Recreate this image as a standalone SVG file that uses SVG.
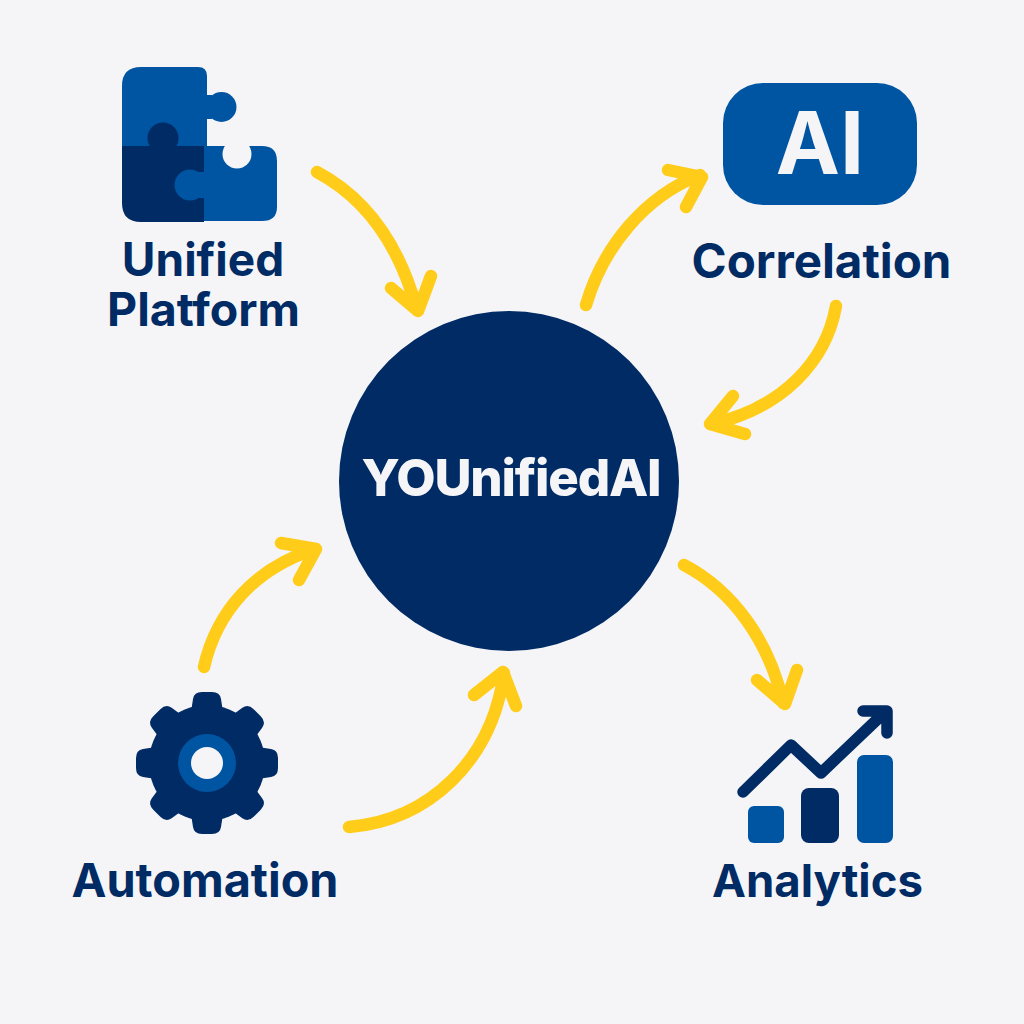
<svg xmlns="http://www.w3.org/2000/svg" width="1024" height="1024" viewBox="0 0 1024 1024">
<style>
.navy{fill:#002b64}.blue{fill:#0055a2}.bg{fill:#f5f5f8}
.lab{font-family:Inter,"Liberation Sans",sans-serif;font-weight:700;fill:#002b64;font-size:46px;text-anchor:middle}
.arr{fill:none;stroke:#ffcc1a;stroke-width:12.5;stroke-linecap:round;stroke-linejoin:round}
.line{fill:none;stroke:#002b64;stroke-width:11.5;stroke-linecap:round;stroke-linejoin:round}
</style>
<defs>
<path id="tooth" d="M191 712L193 699Q194 692 202 692H212Q220 692 221 699L223 712Z"/>
</defs>
<rect width="1024" height="1024" class="bg"/>
<g id="connectors" class="arr">
<path d="M317 172C362 196 398 240 417 310M391 288L418 311L431 276"/>
<path d="M586 305C603 247 645 196 700 175M668 170L702 177L686 207"/>
<path d="M836 306C826 362 782 408 712 424M733 396L710 424L745 434"/>
<path d="M204 667C217 610 256 568 315 549M281 543L316 549L299 580"/>
<path d="M349 827C430 820 492 760 504 673M474 695L503 672L516 706"/>
<path d="M684 565C732 590 769 640 783 703M757 680L785 704L797 670"/>
</g>
<g id="center">
<circle cx="509" cy="481" r="170" class="navy"/>
<text x="511" y="496" style="font-family:Inter,'Liberation Sans',sans-serif;font-weight:800;font-size:51px;text-anchor:middle;fill:#f5f5f8;letter-spacing:-1.2px">YOUnifiedAI</text>
</g>
<g id="unified-platform">
<path class="blue" d="M141 67H198Q207 67 207 76V147H122V86Q122 67 141 67Z"/>
<circle cx="221.500" cy="107" r="15" class="blue"/>
<path class="blue" d="M205 95H212V119H205Z"/>
<path class="blue" d="M204 146H262Q277 146 277 161V207Q277 221 262 221H204Z"/>
<path class="navy" d="M122 146H204V222H141Q122 222 122 203Z"/>
<circle cx="163" cy="138" r="15.500" class="navy"/>
<path class="navy" d="M150 140H176V147H150Z"/>
<circle cx="190" cy="185" r="15.500" class="blue"/>
<path class="blue" d="M198 172H205V198H198Z"/>
<circle cx="237" cy="154" r="14.500" class="bg"/>
<rect x="225" y="140" width="26" height="6" class="bg"/>
<text x="203" y="276" class="lab">Unified</text>
<text x="203.500" y="326" class="lab" style="font-size:46.500px">Platform</text>
</g>
<g id="correlation">
<rect x="723" y="83" width="194" height="122" rx="40" class="blue"/>
<text x="820" y="174" style="font-family:Inter,'Liberation Sans',sans-serif;font-weight:700;font-size:86px;text-anchor:middle;fill:#f5f5f8">AI</text>
<text x="821.500" y="278" class="lab" style="font-size:47.500px">Correlation</text>
</g>
<g id="automation">
<g class="navy">
<circle cx="207" cy="763" r="58"/>
<use href="#tooth"/>
<use href="#tooth" transform="rotate(45 207 763)"/>
<use href="#tooth" transform="rotate(90 207 763)"/>
<use href="#tooth" transform="rotate(135 207 763)"/>
<use href="#tooth" transform="rotate(180 207 763)"/>
<use href="#tooth" transform="rotate(225 207 763)"/>
<use href="#tooth" transform="rotate(270 207 763)"/>
<use href="#tooth" transform="rotate(315 207 763)"/>
</g>
<circle cx="207" cy="763" r="29" class="blue"/>
<circle cx="207" cy="763" r="16" class="bg"/>
<text x="205" y="897" class="lab" style="font-size:46.800px">Automation</text>
</g>
<g id="analytics">
<rect x="748" y="806" width="36" height="37" rx="6" class="blue"/>
<rect x="801" y="788" width="38" height="55" rx="8" class="navy"/>
<rect x="857" y="755" width="36" height="88" rx="7" class="blue"/>
<path class="line" d="M743 792L791 745L821 773L885 712M863 711H887V733"/>
<text x="817.500" y="897" class="lab" style="font-size:45.500px">Analytics</text>
</g>
</svg>
